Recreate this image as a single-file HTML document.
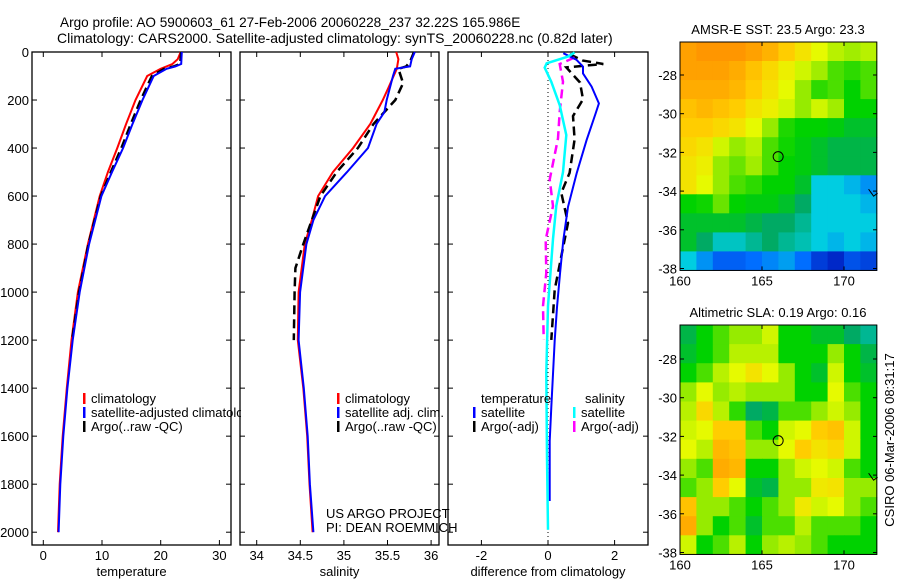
<!DOCTYPE html>
<html><head><meta charset="utf-8">
<style>
html,body{margin:0;padding:0;background:#fff;}
svg{display:block;font-family:"Liberation Sans",sans-serif;}
</style></head>
<body>
<svg id="chart" width="900" height="580" viewBox="0 0 900 580" xmlns="http://www.w3.org/2000/svg">
<text x="60" y="27" font-size="13.6">Argo profile: AO 5900603_61 27-Feb-2006 20060228_237 32.22S 165.986E</text>
<text x="57" y="43" font-size="14">Climatology: CARS2000. Satellite-adjusted climatology: synTS_20060228.nc (0.82d later)</text>
<g id="layer"></g>
</svg>
<script>
// ---------- data ----------
const depthTicks=[0,200,400,600,800,1000,1200,1400,1600,1800,2000];
const tempTicks=[0,10,20,30];
const salTicks=[34,34.5,35,35.5,36];
const salTickLabels=["34","34.5","35","35.5","36"];
const diffTicks=[-2,0,2];
// panel 1 temperature
const tClimDepth=[0,30,50,70,100,200,300,400,500,600,800,1000,1200,1400,1600,1800,2000];
const tClimVal=[23.4,22.9,22.0,20.0,17.7,15.7,14.1,12.6,11.0,9.6,7.6,5.9,4.8,4.0,3.3,2.8,2.5];
const tSatDepth=[0,50,60,70,100,200,300,400,500,600,800,1000,1200,1400,1600,1800,2000];
const tSatVal=[23.6,23.5,22.5,21.0,18.8,16.9,15.2,13.6,11.7,9.9,7.8,6.2,5.0,4.1,3.4,2.9,2.6];
const tArgoDepth=[0,50,60,70,100,200,300,400,500,600,800,1000,1200];
const tArgoVal=[23.5,23.3,22.2,20.6,18.5,16.6,14.9,13.3,11.5,9.8,7.7,6.1,4.9];
// panel 2 salinity
const sClimDepth=[0,30,70,150,200,300,400,500,600,700,800,900,1000,1200,1400,1600,1800,2000];
const sClimVal=[35.60,35.625,35.607,35.509,35.446,35.303,35.106,34.874,34.704,34.632,34.552,34.516,34.48,34.471,34.534,34.579,34.605,34.641];
const sSatDepth=[0,30,60,70,100,200,250,300,400,500,600,700,800,1000,1200,1400,1600,1800,2000];
const sSatVal=[35.813,35.777,35.759,35.589,35.563,35.491,35.464,35.375,35.276,35.035,34.784,34.65,34.57,34.498,34.48,34.54,34.585,34.61,34.65];
const sArgoDepth=[0,40,60,70,130,200,300,400,500,600,800,900,1000,1200];
const sArgoVal=[35.804,35.759,35.715,35.625,35.679,35.589,35.339,35.16,34.918,34.731,34.534,34.444,34.435,34.426];
// panel 3 differences
const dTSatDepth=[5,33,61,89,144,214,256,367,506,645,784,923,1063,1202,1341,1480,1620,1870];
const dTSatVal=[0.46,0.86,1.05,1.05,1.31,1.53,1.43,1.16,0.86,0.6,0.46,0.36,0.27,0.2,0.15,0.1,0.05,0.05];
const dSSatDepth=[2,19,47,65,124,221,346,500,640,779,1058,1337,1685,1990];
const dSSatVal=[0.8,0.6,-0.04,-0.1,0.1,0.35,0.55,0.45,0.25,0.15,0,-0.05,-0.03,0];
const dTArgoDepth=[9,36,50,64,127,197,267,364,503,587,712,851,990,1199];
const dTArgoVal=[0.65,1.05,1.66,0.55,0.96,1.05,0.75,0.8,0.65,0.4,0.6,0.4,0.2,0.1];
const dSArgoDepth=[23,50,124,249,360,531,642,781,920,1058,1197];
const dSArgoVal=[0.8,0.35,0.45,0.35,0.3,0.05,0.15,-0.07,-0.05,-0.15,-0.13];
// maps
const latTicks=[-28,-30,-32,-34,-36,-38];
const lonTicks=[160,165,170];
const sstGrid=[
[.78,.80,.82,.80,.78,.75,.70,.66,.62,.58,.56,.58],
[.78,.78,.78,.76,.72,.68,.64,.60,.56,.50,.48,.50],
[.76,.76,.76,.74,.70,.66,.62,.55,.48,.50,.45,.50],
[.72,.74,.72,.70,.66,.64,.60,.55,.60,.56,.45,.45],
[.70,.70,.68,.66,.62,.55,.47,.45,.45,.44,.42,.42],
[.68,.66,.60,.55,.58,.50,.46,.44,.42,.40,.40,.40],
[.66,.64,.55,.52,.56,.50,.45,.44,.42,.40,.40,.40],
[.66,.62,.55,.50,.48,.45,.45,.42,.30,.30,.28,.25],
[.45,.46,.52,.45,.44,.44,.42,.38,.30,.30,.30,.28],
[.42,.42,.42,.42,.40,.38,.38,.35,.30,.30,.30,.30],
[.42,.38,.32,.32,.35,.38,.35,.33,.30,.28,.30,.28],
[.30,.25,.20,.20,.22,.24,.26,.22,.15,.12,.18,.16]];
const slaGrid=[
[.40,.45,.50,.55,.55,.60,.45,.45,.42,.42,.38,.35],
[.42,.45,.50,.58,.58,.58,.45,.45,.45,.55,.45,.40],
[.45,.50,.58,.62,.66,.62,.55,.45,.42,.60,.45,.42],
[.55,.62,.55,.58,.55,.55,.55,.45,.45,.62,.50,.45],
[.58,.68,.58,.48,.38,.40,.50,.50,.55,.60,.55,.45],
[.60,.62,.70,.70,.50,.45,.60,.62,.70,.72,.60,.45],
[.62,.58,.74,.72,.55,.55,.62,.70,.66,.68,.60,.45],
[.55,.50,.76,.74,.45,.45,.55,.60,.62,.60,.50,.45],
[.50,.55,.70,.62,.42,.40,.55,.55,.65,.66,.55,.55],
[.72,.55,.55,.50,.45,.50,.55,.65,.60,.62,.55,.50],
[.76,.55,.45,.50,.42,.50,.50,.58,.50,.50,.50,.45],
[.60,.45,.50,.58,.45,.55,.58,.55,.50,.45,.45,.45]];
const argoLon=165.986, argoLat=-32.22;

// ---------- helpers ----------
const NS="http://www.w3.org/2000/svg";
const layer=document.getElementById('layer');
function mk(tag,attrs,parent){const e=document.createElementNS(NS,tag);for(const k in attrs)e.setAttribute(k,attrs[k]);(parent||layer).appendChild(e);return e;}
const Y0=52, Y1=545;
function yD(d){return 52+d*0.2401;}
const panels=[
 {name:'temperature',x0:32,x1:231,xs:v=>43.3+v*5.87,ticks:tempTicks,labels:tempTicks.map(String),ylab:true},
 {name:'salinity',x0:240,x1:439,xs:v=>256.7+(v-34)*87.2,ticks:salTicks,labels:salTickLabels},
 {name:'difference from climatology',x0:448,x1:648,xs:v=>548+v*33.3,ticks:diffTicks,labels:diffTicks.map(String)}
];
function legend(x,y,color,label,name){
  const g=mk('g',{});
  
  
  mk('rect',{x:x,y:y-10,width:2.5,height:11,fill:color},g);
  const t=mk('text',{x:x+8,y:y,'font-size':13},g);t.textContent=label;
}
legend(83,403,'#f00','climatology','legend-climatology');
legend(83,417,'#00f','satellite-adjusted climatology','legend-satellite-adjusted');
legend(83,431,'#000','Argo(..raw -QC)','legend-argo');
const cov=mk('rect',{x:241,y:405,width:20,height:16,fill:'#fff'});


panels.forEach((p,i)=>{
  const g=mk('g',{});
  
  
  const box=mk('rect',{x:p.x0,y:Y0,width:p.x1-p.x0,height:Y1-Y0,fill:'none',stroke:'#000','stroke-width':1.3},g);
  
  
  depthTicks.forEach(d=>{
    const y=yD(d);
    mk('line',{x1:p.x0,x2:p.x0+5,y1:y,y2:y,stroke:'#000'},g);
    mk('line',{x1:p.x1-5,x2:p.x1,y1:y,y2:y,stroke:'#000'},g);
    if(p.ylab){const t=mk('text',{x:p.x0-3,y:y+5,'font-size':13,'text-anchor':'end'},g);t.textContent=d;
      
      }
  });
  p.ticks.forEach((v,k)=>{
    const x=p.xs(v);
    mk('line',{x1:x,x2:x,y1:Y0,y2:Y0+5,stroke:'#000'},g);
    mk('line',{x1:x,x2:x,y1:Y1-5,y2:Y1,stroke:'#000'},g);
    const t=mk('text',{x:x,y:560,'font-size':13,'text-anchor':'middle'},g);t.textContent=p.labels[k];
    
    
  });
  const xl=mk('text',{x:(p.x0+p.x1)/2,y:576,'font-size':13,'text-anchor':'middle'},g);xl.textContent=p.name;
  
  
});
function line(p,ds,vs,color,dash,w,name){
  const pts=ds.map((d,i)=>p.xs(vs[i]).toFixed(1)+','+yD(d).toFixed(1)).join(' ');
  const a={points:pts,fill:'none',stroke:color,'stroke-width':w||2};
  if(dash)a['stroke-dasharray']=dash;
  const e=mk('polyline',a);
  
  
}
const [P1,P2,P3]=panels;
line(P1,tClimDepth,tClimVal,'#f00',null,2,'temp-climatology-line');
line(P1,tArgoDepth,tArgoVal,'#000','9,5',2.5,'temp-argo-line');
line(P1,tSatDepth,tSatVal,'#00f',null,2,'temp-satellite-line');
line(P2,sClimDepth,sClimVal,'#f00',null,2,'sal-climatology-line');
line(P2,sArgoDepth,sArgoVal,'#000','9,5',2.5,'sal-argo-line');
line(P2,sSatDepth,sSatVal,'#00f',null,2,'sal-satellite-line');
mk('line',{x1:548,x2:548,y1:Y0,y2:Y1,stroke:'#000','stroke-dasharray':'1,3'});
line(P3,dTArgoDepth,dTArgoVal,'#000','9,5',2.5,'temp-diff-argo-line');
line(P3,dSArgoDepth,dSArgoVal,'#f0f','9,5',2.5,'sal-diff-argo-line');
line(P3,dTSatDepth,dTSatVal,'#00f',null,2,'temp-diff-satellite-line');
line(P3,dSSatDepth,dSSatVal,'#0ff',null,2.5,'sal-diff-satellite-line');

legend(337,403,'#f00','climatology','legend-sal-climatology');
legend(337,417,'#00f','satellite adj. clim.','legend-sal-satellite');
legend(337,431,'#000','Argo(..raw -QC)','legend-sal-argo');
legend(473,417,'#00f','satellite','legend-diff-temp-satellite');
legend(473,431,'#000','Argo(-adj)','legend-diff-temp-argo');
legend(573,417,'#0ff','satellite','legend-diff-sal-satellite');
legend(573,431,'#f0f','Argo(-adj)','legend-diff-sal-argo');
[['temperature',481],['salinity',585]].forEach(([s,x])=>{const t=mk('text',{x:x,y:403,'font-size':13});t.textContent=s;
 
 });
[['US ARGO PROJECT',518],['PI: DEAN ROEMMICH',532]].forEach(([s,y])=>{const t=mk('text',{x:326,y:y,'font-size':13});t.textContent=s;
 
 });

// ---------- maps ----------
const cmapStops=[0.12,0.22,0.30,0.38,0.45,0.55,0.62,0.70,0.80];
const cmapColors=[[0,40,200],[0,110,255],[0,205,225],[0,170,100],[0,210,0],[150,235,0],[230,250,0],[255,205,0],[255,150,0]];
function cmap(v){
  if(v<=cmapStops[0])return 'rgb('+cmapColors[0].join(',')+')';
  for(let i=1;i<cmapStops.length;i++){
    if(v<=cmapStops[i]){
      const f=(v-cmapStops[i-1])/(cmapStops[i]-cmapStops[i-1]);
      const c=cmapColors[i-1].map((a,k)=>Math.round(a+(cmapColors[i][k]-a)*f));
      return 'rgb('+c.join(',')+')';
    }
  }
  return 'rgb('+cmapColors[cmapColors.length-1].join(',')+')';
}
function drawMap(grid,top,lat28y,title,name){
  const g=mk('g',{});
  
  
  const lonX=lon=>680+(lon-160)*16.4;
  const pxPerDeg=19.35;
  const latY=lat=>lat28y+(-28-lat)*pxPerDeg;
  const bottom=latY(-38.1);
  const topLat=-28+(lat28y-top)/pxPerDeg;
  const nr=grid.length;
  const dLat=(topLat-(-38.1))/nr;
  grid.forEach((row,r)=>row.forEach((v,c)=>{
    const x=lonX(160+c), y=latY(topLat-r*dLat);
    const cell=mk('rect',{x:x.toFixed(1),y:y.toFixed(1),width:16.9,height:(dLat*pxPerDeg+0.5).toFixed(1),fill:cmap(v)},g);
    
    
  }));
  mk('rect',{x:680,y:top,width:lonX(172)-680,height:bottom-top,fill:'none',stroke:'#000','stroke-width':1},g);
  latTicks.forEach(l=>{const y=latY(l);
    mk('line',{x1:680,x2:684,y1:y,y2:y,stroke:'#000'},g);
    mk('line',{x1:873,x2:877,y1:y,y2:y,stroke:'#000'},g);
    const t=mk('text',{x:677,y:y+5,'font-size':13,'text-anchor':'end'},g);t.textContent=String(l);
    
    });
  lonTicks.forEach(l=>{const x=lonX(l);
    mk('line',{x1:x,x2:x,y1:bottom-4,y2:bottom,stroke:'#000'},g);
    mk('line',{x1:x,x2:x,y1:top,y2:top+4,stroke:'#000'},g);
    const t=mk('text',{x:x,y:bottom+15,'font-size':13,'text-anchor':'middle'},g);t.textContent=String(l);
    
    });
  const c=mk('circle',{cx:lonX(argoLon),cy:latY(argoLat),r:5,fill:'none',stroke:'#000','stroke-width':1},g);
  
  
  mk('path',{d:`M${lonX(171.5)} ${latY(-33.9)} l5 7 l4 -3`,fill:'none',stroke:'#000'},g);
  const t=mk('text',{x:778,y:top-8,'font-size':13,'text-anchor':'middle'},g);t.textContent=title;
  
  
}
drawMap(sstGrid,42,75,'AMSR-E SST: 23.5 Argo: 23.3','sst-map');
drawMap(slaGrid,325,359,'Altimetric SLA: 0.19 Argo: 0.16','sla-map');
const st=mk('text',{x:0,y:0,'font-size':13,'text-anchor':'middle',transform:'translate(894,440) rotate(-90)'});
st.textContent='CSIRO 06-Mar-2006 08:31:17';


</script>
</body></html>
